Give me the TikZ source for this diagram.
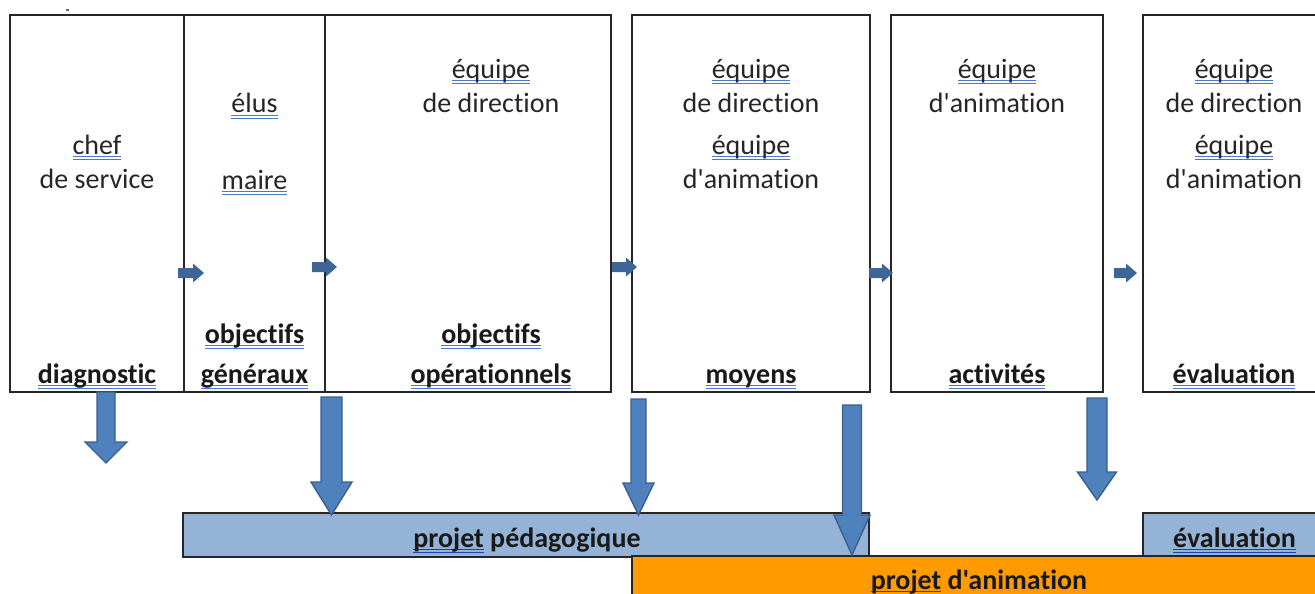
\documentclass[tikz,border=0pt]{standalone}
\usepackage{fontspec}
\setmainfont{Carlito}[Ligatures={CommonOff,TeXOff}]
\usetikzlibrary{calc}
\definecolor{ulblue}{HTML}{4A78D0}
\definecolor{uldark}{HTML}{2140B0}
\definecolor{barblue}{HTML}{95B3D7}
\definecolor{barorange}{HTML}{FF9A00}
\definecolor{arrfill}{HTML}{4F81BD}
\definecolor{arrdraw}{HTML}{3A5F8E}
\definecolor{smallarr}{HTML}{3D6697}
\definecolor{txt}{HTML}{262626}
\newsavebox\ulbox
\newcommand\wu[2][ulblue]{\sbox\ulbox{#2}\leavevmode\rlap{\color{#1}\rule[-3.4pt]{\wd\ulbox}{1.1pt}}\rlap{\color{#1}\rule[-6pt]{\wd\ulbox}{1.1pt}}\usebox\ulbox}
\newcommand\dnarrow[7]{% name, cx, ytop, yhead, ytip, halfshaft, halfhead
  \coordinate (#1) at (#2,#3);
  \filldraw[bigarrow] ($(#1)+(-#6,0)$) -- ($(#1)+(#6,0)$) -- (#2+#6,#4) -- (#2+#7,#4) -- (#2,#5) -- (#2-#7,#4) -- (#2-#6,#4) -- cycle;}
\newcommand\rtarrow[4]{% name, xstart, xend, cy
  \coordinate (#1) at (#2,#4);
  \fill[smallarrow] ($(#1)+(0,-5)$) -- (#3-11,#4-5) -- (#3-11,#4-9.5) -- (#3,#4) -- (#3-11,#4+9.5) -- (#3-11,#4+5) -- ($(#1)+(0,5)$) -- cycle;}
\begin{document}
\begin{tikzpicture}[x=1pt,y=-1pt,
  box/.style={draw=black!85,line width=1.3pt,fill=white,inner sep=0pt,rectangle},
  bar/.style={draw=black!85,line width=1.3pt,inner sep=0pt,rectangle},
  lbl/.style={anchor=base,inner sep=0pt,text=txt,font=\fontsize{28}{34}\selectfont},
  blbl/.style={anchor=base,inner sep=0pt,text=black!90,font=\fontsize{28}{34}\selectfont\bfseries},
  bigarrow/.style={fill=arrfill,draw=arrdraw,line width=1.4pt,line join=miter},
  smallarrow/.style={fill=smallarr}]
\useasboundingbox (0,0) rectangle (1315,594);
\clip (0,0) rectangle (1315,594);
\fill[white] (0,0) rectangle (1315,594);
% tiny dot
\fill[black!60] (66,9) rectangle (68.5,11.5);
% top boxes
\node[box,minimum width=174pt,minimum height=377pt] (b1) at (97,203.5) {};
\node[box,minimum width=141pt,minimum height=377pt] (b2) at (254.5,203.5) {};
\node[box,minimum width=286pt,minimum height=377pt] (b3) at (468,203.5) {};
\node[box,minimum width=238pt,minimum height=377pt] (b4) at (751,203.5) {};
\node[box,minimum width=212pt,minimum height=377pt] (b5) at (997,203.5) {};
\node[box,minimum width=182pt,minimum height=377pt] (b6) at (1234,203.5) {};
% box texts
\node[lbl] (t1a) at (97,154) {\wu{chef}};
\node[lbl] (t1b) at (97,188) {de service};
\node[blbl] (t1c) at (97,383) {\wu{diagnostic}};
\node[lbl] (t2a) at (254.5,113) {\wu{élus}};
\node[lbl] (t2b) at (254.5,189) {\wu{maire}};
\node[blbl] (t2c) at (254.5,343) {\wu{objectifs}};
\node[blbl] (t2d) at (254.5,383) {\wu{généraux}};
\node[lbl] (t3a) at (491,78) {\wu{équipe}};
\node[lbl] (t3b) at (491,113) {de direction};
\node[blbl] (t3c) at (491,343) {\wu{objectifs}};
\node[blbl] (t3d) at (491,383) {\wu{opérationnels}};
\node[lbl] (t4a) at (751,78) {\wu{équipe}};
\node[lbl] (t4b) at (751,113) {de direction};
\node[lbl] (t4c) at (751,154) {\wu{équipe}};
\node[lbl] (t4d) at (751,188) {d'animation};
\node[blbl] (t4e) at (751,383) {\wu{moyens}};
\node[lbl] (t5a) at (997,78) {\wu{équipe}};
\node[lbl] (t5b) at (997,113) {d'animation};
\node[blbl] (t5c) at (997,383) {\wu{activités}};
\node[lbl] (t6a) at (1234,78) {\wu{équipe}};
\node[lbl] (t6b) at (1234,113) {de direction};
\node[lbl] (t6c) at (1234,154) {\wu{équipe}};
\node[lbl] (t6d) at (1234,188) {d'animation};
\node[blbl] (t6e) at (1234,383) {\wu{évaluation}};
% bottom bars
\node[bar,fill=barblue,minimum width=686pt,minimum height=44pt] (ped) at (526,535) {};
\node[bar,fill=barblue,minimum width=182pt,minimum height=44pt] (evb) at (1234,535) {};
\node[bar,fill=barorange,minimum width=694pt,minimum height=64pt] (anim) at (979,588) {};
\node[blbl] (tped) at (527,547) {\wu[uldark]{projet} pédagogique};
\node[blbl] (tevb) at (1234.5,547) {\wu[uldark]{évaluation}};
\node[blbl] (tanim) at (979,589) {\wu[uldark]{projet} d'animation};
% small right arrows
\rtarrow{r1}{178}{204}{273}
\rtarrow{r2}{312}{337}{267}
\rtarrow{r3}{612}{637}{267}
\rtarrow{r4}{869}{893}{273}
\rtarrow{r5}{1114}{1137}{273}
% big down arrows
\dnarrow{d1}{106}{392}{442}{463}{9}{21}
\dnarrow{d2}{331.5}{397}{482}{515}{10.5}{20.5}
\dnarrow{d3}{638.5}{399}{483}{515}{7.5}{15.5}
\dnarrow{d4}{852}{405}{515}{555}{9.5}{18}
\dnarrow{d5}{1097}{398}{472}{500}{10}{19.5}
\end{tikzpicture}
\end{document}
